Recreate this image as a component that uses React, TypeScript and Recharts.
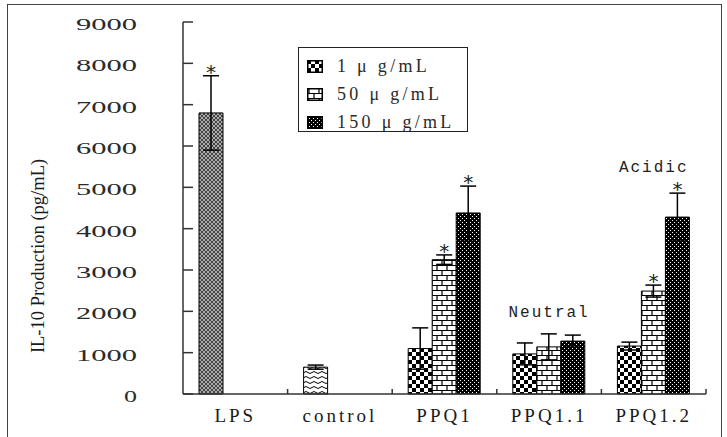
import { Bar, BarChart, Cell, ErrorBar, LabelList, ReferenceDot, XAxis, YAxis } from "recharts";

const categories = ["LPS", "control", "PPQ1", "PPQ1.1", "PPQ1.2"];
const seriesNames = ["1 μ g/mL", "50 μ g/mL", "150 μ g/mL"];

const dose1 = [6800, 650, 1100, 970, 1160];
const dose50 = [null, null, 3250, 1140, 2490];
const dose150 = [null, null, 4380, 1280, 4280];

const err1 = [900, 50, 500, 265, 95];
const err50 = [null, null, 115, 315, 145];
const err150 = [null, null, 650, 145, 580];

const star1 = [true, false, false, false, false];
const star50 = [false, false, true, false, true];
const star150 = [false, false, true, false, true];

const yTicks = [0, 1000, 2000, 3000, 4000, 5000, 6000, 7000, 8000, 9000];

const noteCategories = ["PPQ1.1", "PPQ1.2"];
const noteTexts = ["Neutral", "Acidic"];
const noteLevels = [2000, 5520];

const W = 727;
const H = 437;
const LEFT = 183;
const RIGHT = 21;
const HALF_BAND = (W - LEFT - RIGHT) / categories.length / 2;

const serif = "Liberation Serif";

const rows = categories.map((name, i) => ({
  name,
  d1: dose1[i],
  d50: dose50[i],
  d150: dose150[i],
  e1: err1[i],
  e50: err50[i],
  e150: err150[i],
}));

function firstFill(name: string) {
  if (name === "LPS") return "url(#pLps)";
  if (name === "control") return "url(#pWave)";
  return "url(#pChecker)";
}

const seriesFills = ["url(#pChecker)", "url(#pBrick)", "url(#pDots)"];

function YTick({ x, y, payload }: any) {
  const label = String(payload.value);
  return (
    <g>
      <line x1={x} x2={x + 10} y1={y} y2={y} stroke="#333" strokeWidth={1.5} />
      <text
        x={x - 46}
        y={y}
        dy={8}
        textAnchor="end"
        fontFamily={serif}
        fontSize={16.5}
        textLength={label.length * 16 - 3}
        lengthAdjust="spacingAndGlyphs"
        fill="#2a2a2a"
      >
        {label}
      </text>
    </g>
  );
}

function XTick({ x, y, payload }: any) {
  return (
    <g>
      <line x1={x + HALF_BAND} x2={x + HALF_BAND} y1={y} y2={y - 5} stroke="#333" strokeWidth={1.5} />
      <text
        x={x}
        y={y + 28}
        textAnchor="middle"
        fontFamily={serif}
        fontSize={19}
        letterSpacing={3}
        fill="#1a1a1a"
      >
        {payload.value}
      </text>
    </g>
  );
}

// asterisk above the error bar; the category name is used to look up the row
function starLabel(values: (number | null)[], stars: boolean[], errs: (number | null)[]) {
  return (props: any) => {
    const i = categories.indexOf(String(props.value));
    const box = props.viewBox ?? props;
    const v = values[i];
    if (i < 0 || !stars[i] || v == null) return null;
    const px = Math.abs(box.height) / v;
    const top = box.y - (errs[i] ?? 0) * px;
    return (
      <text
        key={`star-${i}`}
        x={box.x + box.width / 2}
        y={top + 3}
        textAnchor="middle"
        fontFamily="DejaVu Sans"
        fontSize={20}
        fill="#222"
      >
        *
      </text>
    );
  };
}

function YLabel({ viewBox }: any) {
  const cx = viewBox.x + 38;
  const cy = viewBox.y + viewBox.height / 2 + 48;
  return (
    <text
      x={cx}
      y={cy}
      transform={`rotate(-90 ${cx} ${cy})`}
      textAnchor="middle"
      dominantBaseline="central"
      fontFamily={serif}
      fontSize={18.5}
      fill="#1a1a1a"
    >
      IL-10  Production (pg/mL)
    </text>
  );
}

function Legendbox() {
  return (
    <div
      style={{
        position: "absolute",
        left: 298,
        top: 47,
        width: 168,
        height: 83,
        border: "1.5px solid #222",
        background: "#fff",
      }}
    >
      {seriesNames.map((name, i) => (
        <div
          key={name}
          style={{
            position: "absolute",
            left: 8,
            top: 8 + i * 28,
            height: 20,
            display: "flex",
            alignItems: "center",
          }}
        >
          <svg width={16} height={13} style={{ display: "block" }}>
            <rect x={0.75} y={0.75} width={14.5} height={11.5} fill={seriesFills[i]} stroke="#000" strokeWidth={1.5} />
          </svg>
          <span
            style={{
              marginLeft: 14,
              fontFamily: serif,
              fontSize: 18,
              letterSpacing: 3.3,
              color: "#2a2a2a",
              whiteSpace: "pre",
            }}
          >
            {name}
          </span>
        </div>
      ))}
    </div>
  );
}

export default function App() {
  return (
    <div style={{ position: "absolute", left: 0, top: 0, width: W, height: H, background: "#fff", overflow: "hidden" }}>
      <div
        style={{
          position: "absolute",
          left: 7,
          top: 4,
          width: 713,
          height: 460,
          border: "1.5px solid #444",
        }}
      />
      <div style={{ position: "absolute", left: 0, top: 0 }}>
        <BarChart
          width={W}
          height={H}
          data={rows}
          margin={{ top: 22, right: RIGHT, bottom: 0, left: 0 }}
          barCategoryGap={16}
          barGap={0}
        >
          <defs>
            <pattern id="pChecker" width="8" height="8" patternUnits="userSpaceOnUse">
              <rect width="8" height="8" fill="#fff" />
              <rect width="4" height="4" fill="#000" />
              <rect x="4" y="4" width="4" height="4" fill="#000" />
            </pattern>
            <pattern id="pBrick" width="10" height="10" patternUnits="userSpaceOnUse">
              <rect width="10" height="10" fill="#fff" />
              <path d="M0 0.5H10M0 5.5H10M2 0.5V5.5M7 5.5V10.5" stroke="#000" strokeWidth="1.2" fill="none" />
            </pattern>
            <pattern id="pDots" width="4" height="4" patternUnits="userSpaceOnUse">
              <rect width="4" height="4" fill="#000" />
              <rect x="0" y="0" width="1" height="1" fill="#fff" />
              <rect x="2" y="2" width="1" height="1" fill="#fff" />
            </pattern>
            <pattern id="pLps" width="4" height="4" patternUnits="userSpaceOnUse">
              <rect width="4" height="4" fill="#444" />
              <path d="M0 0L4 4M4 0L0 4" stroke="#c8c8c8" strokeWidth="0.8" />
            </pattern>
            <pattern id="pWave" width="8" height="5" patternUnits="userSpaceOnUse">
              <rect width="8" height="5" fill="#fff" />
              <path d="M0 2.5 Q2 0.5 4 2.5 T8 2.5" fill="none" stroke="#000" strokeWidth="1" />
            </pattern>
          </defs>
          <XAxis
            dataKey="name"
            height={43}
            axisLine={{ stroke: "#333", strokeWidth: 1.5 }}
            tickLine={false}
            tickSize={0}
            tickMargin={0}
            interval={0}
            tick={<XTick />}
          />
          <YAxis
            type="number"
            domain={[0, 9000]}
            ticks={yTicks}
            width={LEFT}
            interval={0}
            axisLine={{ stroke: "#333", strokeWidth: 1.5 }}
            tickLine={false}
            tickSize={0}
            tickMargin={0}
            tick={<YTick />}
            label={{ content: <YLabel /> }}
          />
          <Bar dataKey="d1" name={seriesNames[0]} stroke="#000" strokeWidth={1} isAnimationActive={false}>
            {rows.map((r) => (
              <Cell key={r.name} fill={firstFill(r.name)} />
            ))}
            <ErrorBar dataKey="e1" width={8} stroke="#000" strokeWidth={1.5} direction="y" />
            <LabelList dataKey="name" content={starLabel(dose1, star1, err1)} />
          </Bar>
          <Bar dataKey="d50" name={seriesNames[1]} fill={seriesFills[1]} stroke="#000" strokeWidth={1} isAnimationActive={false}>
            <ErrorBar dataKey="e50" width={8} stroke="#000" strokeWidth={1.5} direction="y" />
            <LabelList dataKey="name" content={starLabel(dose50, star50, err50)} />
          </Bar>
          <Bar dataKey="d150" name={seriesNames[2]} fill={seriesFills[2]} stroke="#000" strokeWidth={1} isAnimationActive={false}>
            <ErrorBar dataKey="e150" width={8} stroke="#000" strokeWidth={1.5} direction="y" />
            <LabelList dataKey="name" content={starLabel(dose150, star150, err150)} />
          </Bar>
          {noteCategories.map((c, i) => (
            <ReferenceDot
              key={c}
              x={c}
              y={noteLevels[i]}
              r={1}
              fill="none"
              stroke="none"
              label={{
                value: noteTexts[i],
                position: "center",
                fontFamily: "Liberation Mono",
                fontSize: 16,
                letterSpacing: 2,
                fill: "#222",
              }}
            />
          ))}
        </BarChart>
      </div>
      <Legendbox />
    </div>
  );
}
